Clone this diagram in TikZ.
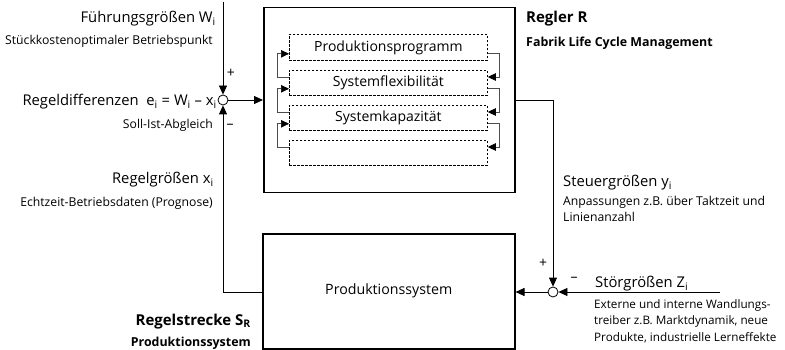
\documentclass[tikz,border=0pt]{standalone}
\usepackage{fontspec}
\setmainfont{Open Sans}
\usetikzlibrary{arrows.meta,calc}
\begin{document}
\begin{tikzpicture}[x=1pt,y=-1pt,
  tip/.style={-{Triangle[length=9pt,width=8pt]}},
  block/.style={draw,line width=1.5pt,inner sep=0pt},
  subblock/.style={draw,line width=0.8pt,dash pattern=on 2.5pt off 1.5pt,inner sep=0pt,
    minimum width=198pt,font=\fontsize{14}{16}\selectfont},
  conn/.style={line width=0.8pt,tip},
  loopline/.style={line width=0.7pt,draw=black!70,-{Triangle[length=8pt,width=7.5pt,color=black]}},
  sumpt/.style={circle,draw,line width=0.8pt,minimum size=10pt,inner sep=0pt,fill=white},
  big/.style={inner sep=0pt,font=\fontsize{14.8}{18}\selectfont},
  small/.style={inner sep=0pt,font=\fontsize{12.2}{15}\selectfont},
  note/.style={inner sep=0pt,font=\fontsize{11.7}{14}\selectfont},
  bigbf/.style={inner sep=0pt,font=\fontsize{15}{18}\selectfont\bfseries},
  smallbf/.style={inner sep=0pt,font=\fontsize{12.4}{15}\selectfont\bfseries},
  sign/.style={inner sep=0pt,font=\fontsize{14}{16}\selectfont}
]
\useasboundingbox (0,0) rectangle (785,350);

% controller and plant
\node[block,anchor=north west,minimum width=251pt,minimum height=185pt] (R) at (263,7) {};
\node[block,anchor=north west,minimum width=252pt,minimum height=115pt,
  font=\fontsize{14.2}{17}\selectfont] (P) at (262,233) {Produktionssystem};

% inner fields of the controller
\node[subblock,anchor=north west,minimum height=26pt] (F1) at (289,34) {Produktionsprogramm};
\node[subblock,anchor=north west,minimum height=25pt] (F2) at (289,70) {Systemflexibilität};
\node[subblock,anchor=north west,minimum height=25pt] (F3) at (289,105) {Systemkapazität};
\node[subblock,anchor=north west,minimum height=25pt] (F4) at (289,140) {};

% right-hand chain downwards
\draw[loopline] ($(F1.south east)+(0,-7)$) -- ++(12,0) |- ($(F2.north east)+(0,7)$);
\draw[loopline] ($(F2.south east)+(0,-7)$) -- ++(12,0) |- ($(F3.north east)+(0,7)$);
\draw[loopline] ($(F3.south east)+(0,-7)$) -- ++(12,0) |- ($(F4.north east)+(0,7)$);
% left-hand chain upwards
\draw[loopline] ($(F2.north west)+(0,7)$) -- ++(-12,0) |- ($(F1.south west)+(0,-7)$);
\draw[loopline] ($(F3.north west)+(0,7)$) -- ++(-12,0) |- ($(F2.south west)+(0,-7)$);
\draw[loopline] ($(F4.north west)+(0,7)$) -- ++(-12,0) |- ($(F3.south west)+(0,-7)$);

% summing points
\node[sumpt] (S1) at (223,100) {};
\node[sumpt] (S2) at (553,292) {};
\coordinate (W) at (223,2);
\coordinate (Z) at (720,292);

% signal lines
\draw[conn] (W) -- (S1.north);
\draw[conn] (S1.east) -- (R.west |- S1);
\draw[conn] (R.east |- S1) -| (S2.north);
\draw[conn] (Z) -- (S2.east);
\draw[conn] (S2.west) -- (P.east |- S2);
\draw[conn] (P.west |- S2) -| (S1.south);

% signs
\node[sign] (p1) at (231,73) {+};
\node[sign] (m1) at (230,126) {–};
\node[sign] (p2) at (543,263) {+};
\node[sign] (m2) at (574,279) {–};

% left labels
\node[big,anchor=base east] (lW) at (216,22.4) {Führungsgrößen W\textsubscript{i}};
\node[small,anchor=base east] (lW2) at (213,44.5) {Stückkostenoptimaler Betriebspunkt};
\node[big,anchor=base east] (le) at (217,105.4) {Regeldifferenzen\ \ e\textsubscript{i} = W\textsubscript{i} – x\textsubscript{i}};
\node[small,anchor=base east] (le2) at (213,128.5) {Soll-Ist-Abgleich};
\node[big,anchor=base east] (lx) at (214,183.4) {Regelgrößen x\textsubscript{i}};
\node[small,anchor=base east] (lx2) at (213,206.5) {Echtzeit-Betriebsdaten (Prognose)};
\node[bigbf,anchor=base east] (lS) at (251,325.4) {Regelstrecke S\textsubscript{R}};
\node[smallbf,anchor=base east] (lS2) at (251,346.5) {Produktionssystem};

% right labels
\node[bigbf,anchor=base west] (lR) at (526,22.4) {Regler R};
\node[smallbf,anchor=base west] (lR2) at (526,46.5) {Fabrik Life Cycle Management};
\node[big,anchor=base west] (ly) at (563,186.4) {Steuergrößen y\textsubscript{i}};
\node[small,anchor=base west] (ly2) at (563,205.5) {Anpassungen z.B. über Taktzeit und};
\node[small,anchor=base west] (ly3) at (563,221.5) {Linienanzahl};
\node[big,anchor=base west] (lz) at (595,287.4) {Störgrößen Z\textsubscript{i}};
\node[note,anchor=base west] (lz2) at (594,308.5) {Externe und interne Wandlungs-};
\node[note,anchor=base west] (lz3) at (594,324.5) {treiber z.B. Marktdynamik, neue};
\node[note,anchor=base west] (lz4) at (594,341.5) {Produkte, industrielle Lerneffekte};
\end{tikzpicture}
\end{document}
